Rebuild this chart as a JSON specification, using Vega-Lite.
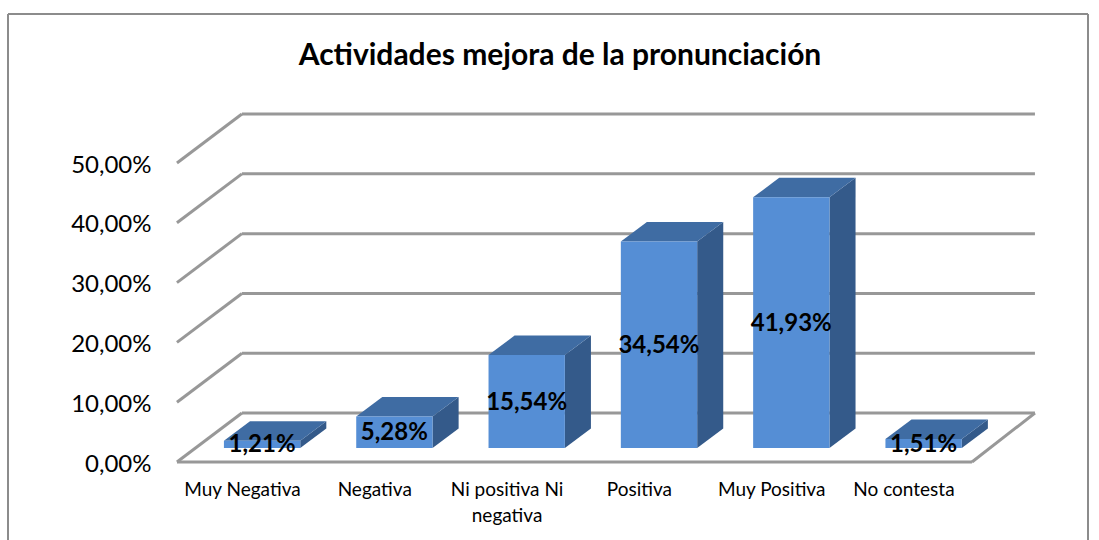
{
"$schema":"https://vega.github.io/schema/vega-lite/v6.json",
"width":1080,"height":526,
"autosize":{"type":"none"},
"padding":{"left":8,"top":14,"right":11,"bottom":0},
"background":"white",
"view":{"stroke":null},
"title":{"text":"Actividades mejora de la pronunciación","font":"Lato","fontSize":30,"fontWeight":"bold","color":"#000000","anchor":"middle","offset":-58,"dx":12},
"config":{"font":"Lato"},
"datasets":{
"bars":[
{"cat":"Muy Negativa","value":1.21},
{"cat":"Negativa","value":5.28},
{"cat":"Ni positiva Ni negativa","value":15.54},
{"cat":"Positiva","value":34.54},
{"cat":"Muy Positiva","value":41.93},
{"cat":"No contesta","value":1.51}],
"grid":[{"v":0},{"v":10},{"v":20},{"v":30},{"v":40},{"v":50}]
},
"data":{"name":"bars"},
"transform":[
{"window":[{"op":"row_number","as":"n"}]},
{"calculate":"datum.n-1","as":"i"},
{"calculate":"datum.value+2.34","as":"top"},
{"calculate":"replace(format(datum.value,'.2f'),'.',',')+'%'","as":"pct"},
{"calculate":"replace(datum.cat,' negativa','\\nnegativa')","as":"catLabel"}
],
"layer":[
{"data":{"name":"grid"},
"transform":[{"calculate":"datum.v+8.19","as":"back"}],
"mark":{"type":"rule","color":"#989898","strokeWidth":3},
"encoding":{
"x":{"datum":0,"type":"quantitative","scale":{"domain":[-1.277,6.886],"nice":false,"zero":false},"axis":null},
"x2":{"datum":0.491},
"y":{"field":"v","type":"quantitative","scale":{"domain":[-13.04,74.92],"nice":false,"zero":false},
"axis":{"title":null,"values":[0,10,20,30,40,50],"domain":false,"ticks":false,"grid":false,"labelPadding":0,"offset":-143,"labelOffset":2,"labelFont":"Lato","labelFontSize":24,"labelColor":"#000000","labelExpr":"replace(format(datum.value,'.2f'),'.',',')+'%'"}},
"y2":{"field":"back"}}},
{"data":{"name":"grid"},
"transform":[{"calculate":"datum.v+8.19","as":"back"}],
"mark":{"type":"rule","color":"#989898","strokeWidth":3},
"encoding":{
"x":{"datum":0.491,"type":"quantitative"},
"x2":{"datum":6.485},
"y":{"field":"back","type":"quantitative"}}},
{"data":{"name":"grid"},
"transform":[{"filter":"datum.v==0"},{"calculate":"datum.v+8.19","as":"back"}],
"mark":{"type":"rule","color":"#989898","strokeWidth":3},
"encoding":{
"x":{"datum":6.009,"type":"quantitative"},
"x2":{"datum":6.485},
"y":{"field":"v","type":"quantitative"},
"y2":{"field":"back"}}},
{"data":{"name":"grid"},
"transform":[{"filter":"datum.v==0"}],
"mark":{"type":"rule","color":"#989898","strokeWidth":3},
"encoding":{
"x":{"datum":0,"type":"quantitative"},
"x2":{"datum":6.009},
"y":{"field":"v","type":"quantitative"}}},
{"transform":[
{"calculate":"[datum.i+0.932,datum.i+1.129]","as":"X"},
{"calculate":"[datum.top,datum.top+3.26]","as":"Y"},
{"calculate":"[2.34,5.6]","as":"Y2"},
{"flatten":["X","Y","Y2"]}],
"mark":{"type":"area","orient":"vertical","color":"#345A8A"},
"encoding":{
"x":{"field":"X","type":"quantitative"},
"y":{"field":"Y","type":"quantitative"},
"y2":{"field":"Y2"},
"detail":{"field":"cat"}}},
{"transform":[
{"calculate":"[datum.i+0.355,datum.i+0.552,datum.i+0.932,datum.i+1.129]","as":"X"},
{"calculate":"[datum.top,datum.top+3.26,datum.top+3.26,datum.top+3.26]","as":"Y"},
{"calculate":"[datum.top,datum.top,datum.top,datum.top+3.26]","as":"Y2"},
{"flatten":["X","Y","Y2"]}],
"mark":{"type":"area","orient":"vertical","color":"#3F6CA3"},
"encoding":{
"x":{"field":"X","type":"quantitative"},
"y":{"field":"Y","type":"quantitative"},
"y2":{"field":"Y2"},
"detail":{"field":"cat"}}},
{"transform":[
{"calculate":"datum.i+0.355","as":"X"},
{"calculate":"datum.i+0.932","as":"X2"},
{"calculate":"2.34","as":"base"}],
"mark":{"type":"rect","color":"#558ED5"},
"encoding":{
"x":{"field":"X","type":"quantitative"},
"x2":{"field":"X2"},
"y":{"field":"top","type":"quantitative"},
"y2":{"field":"base"}}},
{"transform":[
{"calculate":"datum.i+0.643","as":"X"},
{"calculate":"2.34+datum.value/2","as":"Y"}],
"mark":{"type":"text","font":"Lato","fontSize":24,"fontWeight":"bold","color":"#000000","align":"center","baseline":"middle","dy":1},
"encoding":{
"x":{"field":"X","type":"quantitative"},
"y":{"field":"Y","type":"quantitative"},
"text":{"field":"pct"}}},
{"transform":[
{"calculate":"datum.i+0.495","as":"X"},
{"calculate":"-3.18","as":"Y"}],
"mark":{"type":"text","font":"Lato","fontSize":19,"color":"#000000","align":"center","baseline":"top","lineBreak":"\n","lineHeight":26},
"encoding":{
"x":{"field":"X","type":"quantitative"},
"y":{"field":"Y","type":"quantitative"},
"text":{"field":"catLabel"}}},
{"mark":{"type":"rule","color":"#8C8C8C","strokeWidth":2},
"encoding":{"x":{"datum":-1.277,"type":"quantitative"},"y":{"datum":74.92,"type":"quantitative"},"y2":{"datum":-13.04}}},
{"mark":{"type":"rule","color":"#8C8C8C","strokeWidth":2},
"encoding":{"x":{"datum":6.886,"type":"quantitative"},"y":{"datum":74.92,"type":"quantitative"},"y2":{"datum":-13.04}}},
{"mark":{"type":"rule","color":"#8C8C8C","strokeWidth":2},
"encoding":{"x":{"datum":-1.277,"type":"quantitative"},"x2":{"datum":6.886},"y":{"datum":74.92,"type":"quantitative"}}}
]
}
